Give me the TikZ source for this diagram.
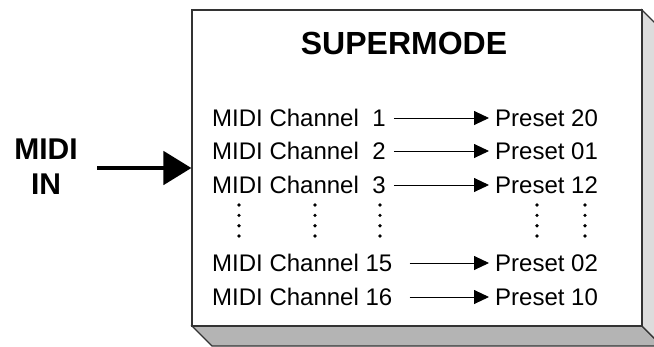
\documentclass[tikz,border=0pt]{standalone}
\usepackage{fontspec}
\setmainfont{Liberation Sans}
\usetikzlibrary{arrows.meta}
\definecolor{sidegrey}{HTML}{DCDCDC}
\definecolor{floorgrey}{HTML}{B4B4B4}
\definecolor{edgegrey}{HTML}{333333}
\tikzset{
    chtext/.style = {anchor=west, inner sep=0pt, text height=17pt, text depth=0pt, font=\fontsize{24}{28}\selectfont},
    chnum/.style = {inner sep=0pt, text height=17pt, text depth=0pt, font=\fontsize{24}{28}\selectfont},
    bigtext/.style = {inner sep=0pt, font=\fontsize{30}{36}\selectfont\bfseries},
    panel/.style = {draw=edgegrey, line width=1.1pt, fill=white, inner sep=0pt, minimum width=450pt, minimum height=316pt},
    face/.style = {draw=edgegrey, line width=1.1pt},
    maparrow/.style = {-{Triangle[length=15pt,width=14pt]}, line width=0.9pt, shorten >=6pt},
    inarrow/.style = {-{Triangle[length=28pt,width=33pt]}, line width=4.8pt}
}
\begin{document}
\begin{tikzpicture}[x=1pt,y=-1pt]
    \useasboundingbox (0,0) rectangle (654,346);
    \clip (0,0) rectangle (654,346);
    \filldraw[face, fill=floorgrey] (192,326) -- (642,326) -- (662,346) -- (212,346) -- cycle;
    \filldraw[face, fill=sidegrey] (642,10) -- (662,30) -- (662,346) -- (642,326) -- cycle;
    \node[panel] (box) at (417,168) {};
    \node[bigtext, font=\fontsize{32}{38}\selectfont\bfseries] (title) at (404,43) {SUPERMODE};
    \node[bigtext] (midi) at (46,149) {MIDI};
    \node[bigtext] (in) at (46,184) {IN};
    \coordinate (instart) at (97,168);
    \draw[inarrow] (instart) -- (box.west);
    \foreach \i/\y/\ch/\pr/\gap in {1/118/1/20/8, 2/151/2/01/8, 3/185/3/12/8, 4/263/15/02/17, 5/297/16/10/17}{
        \node[chtext] (ch\i) at (212,\y) {MIDI Channel};
        \node[chnum] (num\i) at (379,\y) {\ch};
        \node[chtext] (pr\i) at (495,\y) {Preset \pr};
        \draw[maparrow] ([xshift=\gap pt]num\i.east) -- (pr\i.west);
    }
    \foreach \x in {239,315,380,537,585}
        \foreach \y in {205,215.3,225.7,236}
            \fill (\x,\y) circle (1.8);
\end{tikzpicture}
\end{document}
